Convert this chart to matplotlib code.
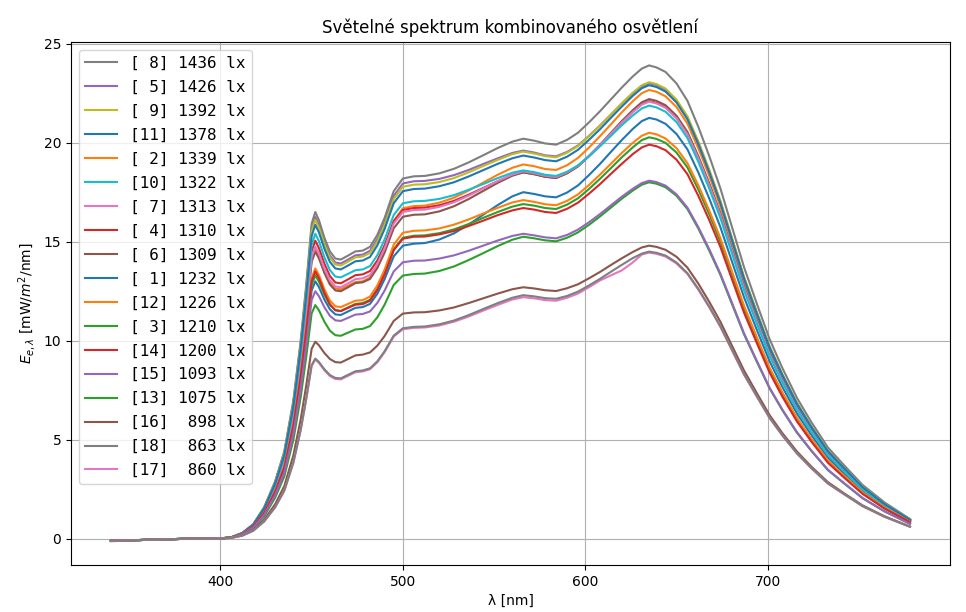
import matplotlib
matplotlib.use("Agg")
import matplotlib.pyplot as plt

# vlnové délky [nm]
wl = [340, 360, 380, 400, 406, 412, 418, 424, 430, 435, 440, 444, 447, 450, 452,
      454, 457, 460, 463, 466, 470, 474, 478, 482, 486, 490, 495, 500, 506,
      512, 520, 528, 536, 544, 552, 560, 566, 572, 578, 584,
      590, 596, 602, 608, 614, 620, 626, 631, 635,
      639, 644, 650, 656, 662, 668, 674, 680, 687, 694, 701, 708, 716, 724, 733, 742, 752, 764, 778]

# spektrální ozáření jednotlivých měření [mW/m2/nm]
e01 = [-0.1, -0.05, 0.0, 0.02, 0.07, 0.23, 0.59, 1.26, 2.29, 3.47, 5.51, 7.88, 10.09, 12.53, 13.0,
       12.71, 12.08, 11.59, 11.33, 11.3, 11.48, 11.66, 11.7, 11.86, 12.37, 13.11, 14.26, 14.8, 14.9,
       14.93, 15.11, 15.42, 15.86, 16.36, 16.85, 17.29, 17.5, 17.41, 17.29, 17.24,
       17.48, 17.84, 18.36, 18.92, 19.53, 20.13, 20.69, 21.09, 21.25,
       21.17, 20.95, 20.44, 19.66, 18.49, 17.17, 15.75, 14.11, 12.2, 10.56, 8.97, 7.67, 6.33, 5.23, 4.10, 3.29, 2.42, 1.64, 0.89]
e02 = [-0.1, -0.05, 0.0, 0.02, 0.07, 0.26, 0.66, 1.42, 2.57, 3.90, 6.19, 8.85, 11.33, 14.07, 14.6,
       14.26, 13.52, 12.94, 12.64, 12.6, 12.78, 12.96, 13.0, 13.19, 13.8, 14.67, 16.04, 16.69, 16.8,
       16.82, 16.97, 17.22, 17.58, 17.98, 18.38, 18.73, 18.9, 18.81, 18.67, 18.62,
       18.86, 19.23, 19.75, 20.32, 20.92, 21.53, 22.09, 22.5, 22.66,
       22.57, 22.34, 21.8, 20.96, 19.71, 18.31, 16.79, 15.05, 13.01, 11.26, 9.56, 8.18, 6.75, 5.57, 4.37, 3.51, 2.58, 1.74, 0.95]
e03 = [-0.1, -0.05, 0.0, 0.02, 0.07, 0.24, 0.6, 1.29, 2.34, 3.55, 5.64, 8.06, 10.32, 12.82, 13.3,
       12.99, 12.33, 11.81, 11.54, 11.5, 11.68, 11.86, 11.9, 12.07, 12.61, 13.4, 14.62, 15.2, 15.3,
       15.32, 15.43, 15.62, 15.89, 16.2, 16.5, 16.77, 16.9, 16.82, 16.7, 16.65,
       16.87, 17.19, 17.66, 18.17, 18.71, 19.26, 19.76, 20.13, 20.27,
       20.19, 19.99, 19.5, 18.75, 17.63, 16.38, 15.02, 13.46, 11.63, 10.07, 8.55, 7.32, 6.04, 4.99, 3.91, 3.14, 2.31, 1.56, 0.85]
e04 = [-0.1, -0.05, 0.0, 0.02, 0.08, 0.27, 0.68, 1.46, 2.65, 4.02, 6.38, 9.12, 11.68, 14.51, 15.05,
       14.68, 13.89, 13.27, 12.94, 12.9, 13.1, 13.31, 13.35, 13.52, 14.05, 14.82, 16.03, 16.6, 16.7,
       16.72, 16.84, 17.06, 17.37, 17.71, 18.05, 18.36, 18.5, 18.41, 18.28, 18.22,
       18.45, 18.8, 19.31, 19.85, 20.43, 21.01, 21.56, 21.94, 22.1,
       22.01, 21.79, 21.26, 20.44, 19.23, 17.86, 16.38, 14.67, 12.69, 10.98, 9.33, 7.98, 6.59, 5.44, 4.27, 3.43, 2.52, 1.70, 0.93]
e05 = [-0.1, -0.05, 0.0, 0.02, 0.08, 0.29, 0.73, 1.58, 2.86, 4.34, 6.89, 9.85, 12.61, 15.67, 16.25,
       15.85, 14.98, 14.3, 13.95, 13.9, 14.1, 14.31, 14.35, 14.54, 15.13, 15.98, 17.31, 17.94, 18.05,
       18.07, 18.17, 18.36, 18.62, 18.92, 19.21, 19.48, 19.6, 19.5, 19.36, 19.31,
       19.53, 19.86, 20.34, 20.86, 21.41, 21.97, 22.48, 22.85, 23.0,
       22.91, 22.68, 22.13, 21.28, 20.01, 18.58, 17.04, 15.27, 13.2, 11.43, 9.71, 8.30, 6.85, 5.66, 4.44, 3.57, 2.62, 1.77, 0.97]
e06 = [-0.1, -0.05, 0.0, 0.02, 0.07, 0.26, 0.65, 1.41, 2.55, 3.87, 6.15, 8.79, 11.25, 13.98, 14.5,
       14.16, 13.42, 12.84, 12.54, 12.5, 12.7, 12.91, 12.95, 13.12, 13.67, 14.45, 15.68, 16.26, 16.36,
       16.38, 16.53, 16.79, 17.15, 17.56, 17.97, 18.33, 18.5, 18.41, 18.28, 18.22,
       18.46, 18.82, 19.33, 19.89, 20.49, 21.09, 21.64, 22.04, 22.2,
       22.11, 21.89, 21.36, 20.54, 19.31, 17.94, 16.45, 14.74, 12.74, 11.03, 9.37, 8.01, 6.62, 5.46, 4.28, 3.44, 2.53, 1.71, 0.93]
e07 = [-0.1, -0.05, 0.0, 0.02, 0.07, 0.27, 0.66, 1.43, 2.60, 3.94, 6.25, 8.94, 11.45, 14.22, 14.75,
       14.4, 13.64, 13.05, 12.74, 12.7, 12.9, 13.11, 13.15, 13.32, 13.87, 14.67, 15.91, 16.5, 16.6,
       16.62, 16.76, 16.99, 17.32, 17.69, 18.06, 18.39, 18.55, 18.46, 18.33, 18.27,
       18.5, 18.84, 19.33, 19.87, 20.44, 21.01, 21.54, 21.92, 22.07,
       21.98, 21.76, 21.23, 20.41, 19.2, 17.83, 16.35, 14.65, 12.67, 10.97, 9.31, 7.97, 6.58, 5.43, 4.26, 3.42, 2.52, 1.70, 0.93]
e08 = [-0.12, -0.05, 0.0, 0.02, 0.08, 0.30, 0.74, 1.60, 2.90, 4.41, 7.00, 10.0, 12.8, 15.91, 16.5,
       16.09, 15.2, 14.51, 14.15, 14.1, 14.3, 14.51, 14.55, 14.74, 15.34, 16.2, 17.55, 18.19, 18.3,
       18.32, 18.45, 18.68, 19.0, 19.36, 19.73, 20.05, 20.2, 20.1, 19.96, 19.9,
       20.14, 20.5, 21.02, 21.58, 22.18, 22.78, 23.34, 23.74, 23.9,
       23.8, 23.57, 22.99, 22.11, 20.79, 19.31, 17.71, 15.87, 13.72, 11.88, 10.09, 8.63, 7.12, 5.88, 4.61, 3.70, 2.72, 1.84, 1.0]
e09 = [-0.1, -0.05, 0.0, 0.02, 0.08, 0.29, 0.72, 1.56, 2.83, 4.30, 6.83, 9.76, 12.49, 15.52, 16.1,
       15.71, 14.86, 14.19, 13.85, 13.8, 14.0, 14.21, 14.25, 14.43, 15.01, 15.85, 17.15, 17.77, 17.88,
       17.9, 18.01, 18.21, 18.5, 18.82, 19.13, 19.42, 19.55, 19.45, 19.32, 19.26,
       19.49, 19.83, 20.32, 20.85, 21.42, 21.99, 22.52, 22.9, 23.05,
       22.96, 22.73, 22.17, 21.32, 20.05, 18.62, 17.08, 15.31, 13.23, 11.46, 9.73, 8.32, 6.87, 5.67, 4.45, 3.57, 2.63, 1.77, 0.97]
e10 = [-0.1, -0.05, 0.0, 0.02, 0.08, 0.28, 0.69, 1.49, 2.71, 4.11, 6.53, 9.33, 11.95, 14.85, 15.4,
       15.03, 14.21, 13.57, 13.24, 13.2, 13.38, 13.56, 13.6, 13.77, 14.32, 15.11, 16.35, 16.94, 17.04,
       17.06, 17.16, 17.35, 17.62, 17.91, 18.21, 18.48, 18.6, 18.51, 18.38, 18.32,
       18.53, 18.85, 19.31, 19.81, 20.34, 20.88, 21.37, 21.73, 21.87,
       21.78, 21.56, 21.04, 20.23, 19.03, 17.67, 16.21, 14.52, 12.55, 10.87, 9.23, 7.9, 6.52, 5.38, 4.22, 3.39, 2.49, 1.68, 0.92]
e11 = [-0.1, -0.05, 0.0, 0.02, 0.08, 0.29, 0.71, 1.54, 2.79, 4.23, 6.72, 9.61, 12.3, 15.28, 15.85,
       15.47, 14.64, 13.98, 13.65, 13.6, 13.8, 14.01, 14.05, 14.23, 14.81, 15.64, 16.94, 17.55, 17.66,
       17.68, 17.8, 18.0, 18.29, 18.61, 18.93, 19.21, 19.35, 19.25, 19.12, 19.06,
       19.29, 19.64, 20.14, 20.67, 21.25, 21.82, 22.36, 22.75, 22.9,
       22.81, 22.58, 22.03, 21.18, 19.92, 18.5, 16.97, 15.21, 13.14, 11.38, 9.66, 8.27, 6.82, 5.63, 4.42, 3.55, 2.61, 1.76, 0.96]
e12 = [-0.1, -0.05, 0.0, 0.02, 0.07, 0.25, 0.61, 1.32, 2.40, 3.64, 5.79, 8.27, 10.59, 13.16, 13.65,
       13.32, 12.6, 12.03, 11.74, 11.7, 11.86, 12.02, 12.05, 12.23, 12.79, 13.59, 14.85, 15.45, 15.55,
       15.57, 15.67, 15.86, 16.12, 16.42, 16.71, 16.98, 17.1, 17.01, 16.89, 16.84,
       17.06, 17.39, 17.86, 18.38, 18.93, 19.48, 19.99, 20.35, 20.5,
       20.42, 20.21, 19.72, 18.96, 17.84, 16.56, 15.19, 13.61, 11.77, 10.19, 8.65, 7.40, 6.11, 5.04, 3.96, 3.18, 2.34, 1.58, 0.86]
e13 = [-0.1, -0.05, 0.0, 0.02, 0.06, 0.21, 0.53, 1.14, 2.08, 3.15, 5.0, 7.15, 9.16, 11.38, 11.8,
       11.54, 10.96, 10.51, 10.28, 10.25, 10.41, 10.57, 10.6, 10.74, 11.18, 11.82, 12.82, 13.29, 13.37,
       13.39, 13.52, 13.75, 14.07, 14.42, 14.78, 15.1, 15.25, 15.17, 15.07, 15.02,
       15.2, 15.47, 15.85, 16.27, 16.72, 17.17, 17.58, 17.88, 18.0,
       17.93, 17.75, 17.32, 16.65, 15.66, 14.54, 13.34, 11.95, 10.33, 8.95, 7.6, 6.5, 5.36, 4.43, 3.47, 2.79, 2.05, 1.39, 0.76]
e14 = [-0.1, -0.05, 0.0, 0.02, 0.07, 0.24, 0.61, 1.31, 2.38, 3.6, 5.72, 8.18, 10.48, 13.01, 13.5,
       13.16, 12.42, 11.84, 11.54, 11.5, 11.66, 11.82, 11.85, 12.02, 12.56, 13.35, 14.57, 15.15, 15.25,
       15.26, 15.37, 15.54, 15.79, 16.06, 16.34, 16.58, 16.7, 16.62, 16.5, 16.45,
       16.66, 16.97, 17.42, 17.9, 18.42, 18.93, 19.42, 19.76, 19.9,
       19.82, 19.62, 19.14, 18.41, 17.31, 16.08, 14.75, 13.21, 11.42, 9.89, 8.4, 7.18, 5.93, 4.9, 3.84, 3.08, 2.27, 1.53, 0.84]
e15 = [-0.1, -0.05, 0.0, 0.02, 0.06, 0.23, 0.56, 1.21, 2.2, 3.34, 5.3, 7.58, 9.7, 12.05, 12.5,
       12.25, 11.69, 11.26, 11.03, 11.0, 11.16, 11.32, 11.35, 11.48, 11.91, 12.53, 13.5, 13.96, 14.04,
       14.05, 14.15, 14.31, 14.54, 14.8, 15.06, 15.29, 15.4, 15.32, 15.22, 15.17,
       15.34, 15.61, 15.98, 16.39, 16.83, 17.27, 17.67, 17.96, 18.08,
       18.01, 17.83, 17.39, 16.72, 15.73, 14.61, 13.4, 12.01, 10.38, 8.99, 7.63, 6.53, 5.39, 4.45, 3.49, 2.8, 2.06, 1.39, 0.76]
e16 = [-0.1, -0.05, 0.0, 0.02, 0.05, 0.18, 0.45, 0.97, 1.75, 2.66, 4.22, 6.03, 7.72, 9.59, 9.95,
       9.77, 9.38, 9.08, 8.92, 8.9, 9.08, 9.26, 9.3, 9.41, 9.75, 10.24, 11.0, 11.37, 11.43,
       11.44, 11.53, 11.68, 11.9, 12.14, 12.38, 12.6, 12.7, 12.64, 12.55, 12.51,
       12.65, 12.85, 13.15, 13.47, 13.82, 14.16, 14.48, 14.71, 14.8,
       14.74, 14.59, 14.24, 13.69, 12.88, 11.96, 10.97, 9.83, 8.5, 7.36, 6.25, 5.34, 4.41, 3.64, 2.86, 2.29, 1.69, 1.14, 0.62]
e17 = [-0.1, -0.05, 0.0, 0.02, 0.05, 0.16, 0.41, 0.88, 1.59, 2.42, 3.84, 5.48, 7.02, 8.72, 9.05,
       8.88, 8.51, 8.22, 8.07, 8.05, 8.23, 8.41, 8.45, 8.56, 8.91, 9.42, 10.21, 10.58, 10.65,
       10.67, 10.77, 10.96, 11.22, 11.52, 11.81, 12.08, 12.2, 12.14, 12.05, 12.02,
       12.17, 12.38, 12.7, 13.04, 13.3, 13.55, 13.95, 14.35, 14.45,
       14.39, 14.25, 13.9, 13.37, 12.57, 11.68, 10.71, 9.59, 8.29, 7.18, 6.1, 5.22, 4.31, 3.55, 2.79, 2.24, 1.65, 1.11, 0.61]
e18 = [-0.1, -0.05, 0.0, 0.02, 0.05, 0.16, 0.41, 0.88, 1.6, 2.43, 3.86, 5.51, 7.06, 8.77, 9.1,
       8.93, 8.56, 8.27, 8.12, 8.1, 8.28, 8.46, 8.5, 8.61, 8.96, 9.47, 10.26, 10.63, 10.7,
       10.72, 10.83, 11.02, 11.29, 11.6, 11.9, 12.17, 12.3, 12.24, 12.15, 12.12,
       12.26, 12.48, 12.79, 13.12, 13.48, 13.83, 14.17, 14.4, 14.5,
       14.44, 14.3, 13.95, 13.41, 12.62, 11.72, 10.74, 9.63, 8.32, 7.21, 6.12, 5.23, 4.32, 3.57, 2.8, 2.25, 1.65, 1.12, 0.61]

# osvětlenost naměřená luxmetrem [lx]
lux = [1232, 1339, 1210, 1310, 1426, 1309, 1313, 1436, 1392, 1322,
       1378, 1226, 1075, 1200, 1093, 898, 860, 863]

spektra = [e01, e02, e03, e04, e05, e06, e07, e08, e09, e10,
           e11, e12, e13, e14, e15, e16, e17, e18]

fig, ax = plt.subplots(figsize=(9.66, 6.12), dpi=100)

lines = []
for i, e in enumerate(spektra):
    cislo = i + 1
    line, = ax.plot(wl, e, color=f"C{i % 10}", lw=1.5,
                    label=f"[{cislo:2d}] {lux[i]:4d} lx")
    lines.append(line)

# legenda seřazená podle osvětlenosti
poradi = sorted(range(len(lux)), key=lambda k: lux[k], reverse=True)
ax.legend([lines[k] for k in poradi], [lines[k].get_label() for k in poradi],
          loc="upper left", labelspacing=0.56,
          prop={"family": "DejaVu Sans Mono", "size": 11.5})

ax.set_title("Světelné spektrum kombinovaného osvětlení", fontsize=12)
ax.set_xlabel("λ [nm]")
ax.set_ylabel(r"$E_{e,\lambda}$ [mW/$m^2$/nm]")
ax.grid(True)

fig.subplots_adjust(left=0.0735, right=0.9834, top=0.932, bottom=0.0768)
fig.savefig("out.png")
